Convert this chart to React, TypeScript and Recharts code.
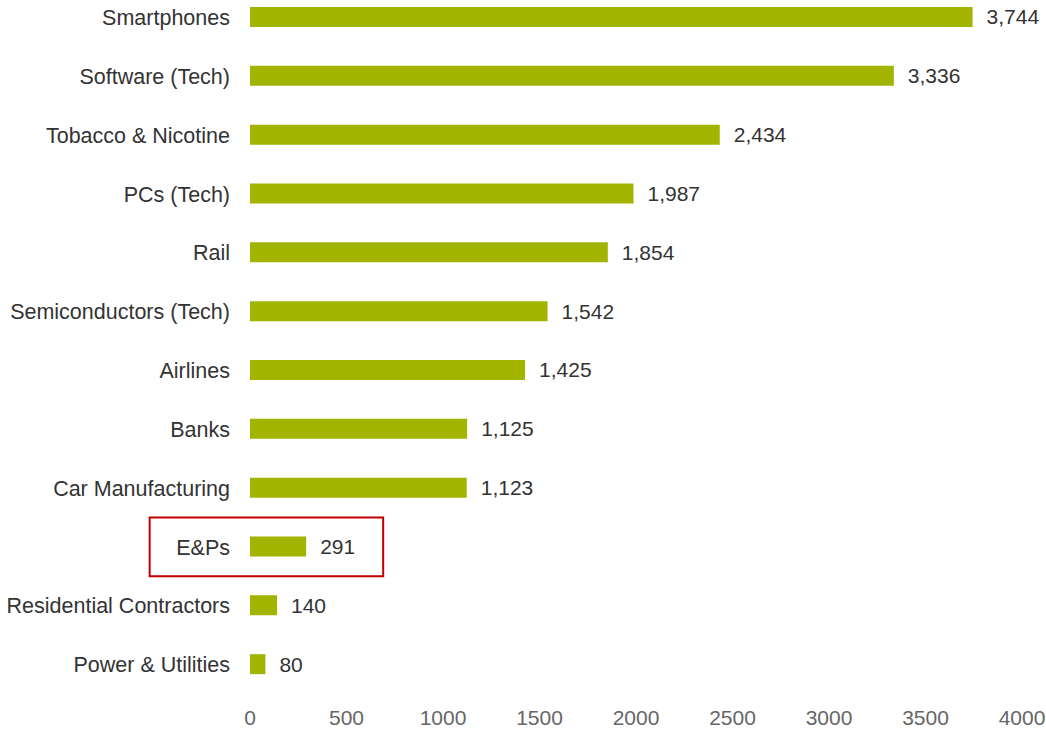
import React from 'react';
import { BarChart, Bar, XAxis, YAxis, LabelList, ReferenceArea } from 'recharts';

const sectors = [
  'Smartphones',
  'Software (Tech)',
  'Tobacco & Nicotine',
  'PCs (Tech)',
  'Rail',
  'Semiconductors (Tech)',
  'Airlines',
  'Banks',
  'Car Manufacturing',
  'E&Ps',
  'Residential Contractors',
  'Power & Utilities',
];

const values = [3744, 3336, 2434, 1987, 1854, 1542, 1425, 1125, 1123, 291, 140, 80];

const xTicks = [0, 500, 1000, 1500, 2000, 2500, 3000, 3500, 4000];

const highlighted = 'E&Ps';

const data = sectors.map((name, i) => ({ name, value: values[i] }));

const FONT = '"Liberation Sans", Arial, sans-serif';

export default function App() {
  return (
    <div style={{ position: 'absolute', top: 0, left: 0, width: 1046, height: 732, overflow: 'hidden', background: '#fff' }}>
      <div style={{ marginTop: -20 }}>
        <BarChart
          width={1046}
          height={752}
          data={data}
          layout="vertical"
          margin={{ top: 8, right: 24, left: 0, bottom: 0 }}
          barCategoryGap={0}
          style={{ fontFamily: FONT }}
        >
          <XAxis
            type="number"
            domain={[0, 4000]}
            ticks={xTicks}
            axisLine={false}
            tickLine={false}
            tickSize={0}
            tickMargin={16}
            height={38}
            tick={{ fill: '#666666', fontSize: 21, fontFamily: FONT }}
          />
          <YAxis
            type="category"
            dataKey="name"
            width={250}
            axisLine={false}
            tickLine={false}
            tickSize={0}
            tickMargin={20}
            interval={0}
            tick={{ fill: '#333333', fontSize: 21.5, fontFamily: FONT }}
          />
          <Bar dataKey="value" fill="#a2b400" barSize={20} isAnimationActive={false}>
            <LabelList
              dataKey="value"
              position="right"
              offset={14}
              formatter={(v: number) => v.toLocaleString('en-US')}
              style={{ fill: '#333333', fontSize: 21, fontFamily: FONT }}
            />
          </Bar>
          {/* outline around the highlighted sector row */}
          <ReferenceArea
            x1={-520}
            x2={690}
            y1={highlighted}
            y2={highlighted}
            ifOverflow="visible"
            fill="none"
            stroke="#c00000"
            strokeWidth={2}
          />
        </BarChart>
      </div>
    </div>
  );
}
